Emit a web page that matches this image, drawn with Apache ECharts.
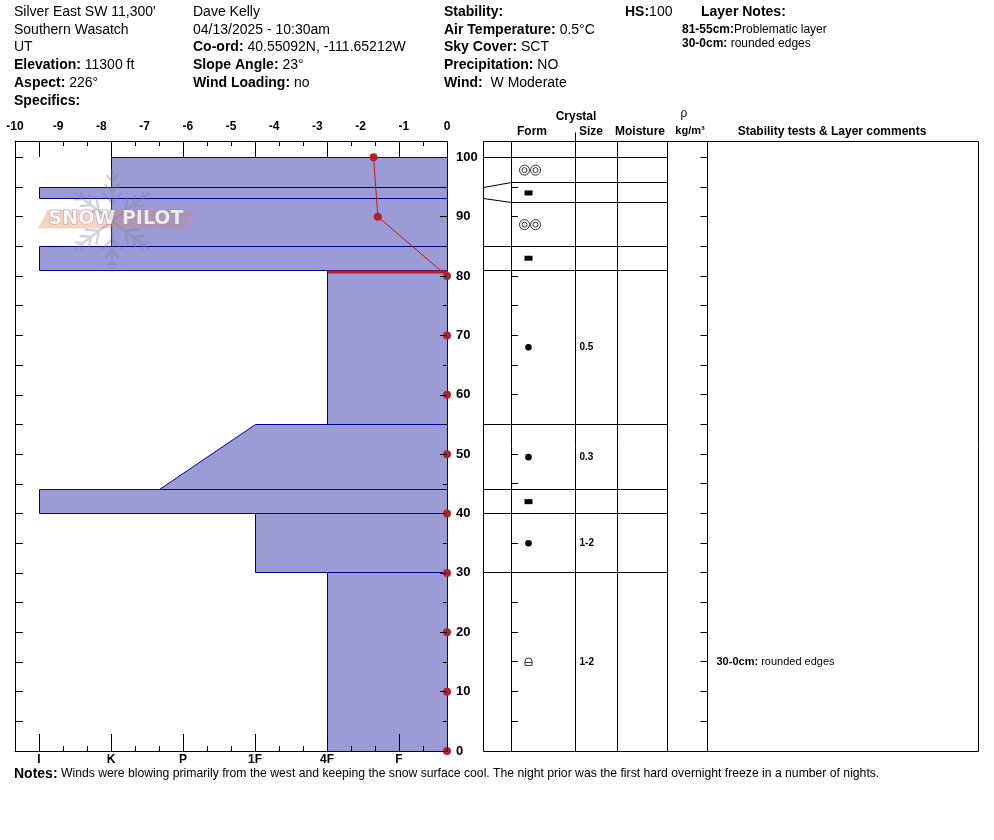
<!DOCTYPE html>
<html><head><meta charset="utf-8">
<script src="https://cdn.jsdelivr.net/npm/echarts@6/dist/echarts.min.js"></script>
<style>html,body{margin:0;padding:0;background:#fff}#c{width:994px;height:840px}</style>
</head><body><div id="c"></div>
<script>
// ---------- DATA ----------
const layerTop      = [100, 95, 93, 85, 81, 55, 44, 40, 30];
const layerBottom   = [95, 93, 85, 81, 55, 44, 40, 30, 0];
const hardnessTop   = ['K', 'I', 'K', 'I', '4F', '1F', 'I', '1F', '4F'];
const hardnessBottom= ['K', 'I', 'K', 'I', '4F', 'P+', 'I', '1F', '4F'];
const grainForm     = ['MFcr', 'IF', 'MFcr', 'IF', 'RG', 'RG', 'IF', 'RG', 'FCxr'];
const grainSize     = ['', '', '', '', '0.5', '0.3', '', '1-2', '1-2'];
const problematic   = [false, false, false, false, true, false, false, false, false];
const layerComment  = ['', '', '', '', '', '', '', '', ' rounded edges'];
const tempDepth     = [100, 90, 80, 70, 60, 50, 40, 30, 20, 10, 0];
const tempValue     = [-1.7, -1.6, 0, 0, 0, 0, 0, 0, 0, 0, 0];
const hardnessLabels= ['I', 'K', 'P', '1F', '4F', 'F'];
const depthLabels   = [0, 10, 20, 30, 40, 50, 60, 70, 80, 90, 100];
const depthTicks    = [0, 5, 10, 15, 20, 25, 30, 35, 40, 45, 50, 55, 60, 65, 70, 75, 80, 85, 90, 95, 100];
const tempLabels    = [-10, -9, -8, -7, -6, -5, -4, -3, -2, -1, 0];

const infoCol1 = [["Silver East SW 11,300'"], ['Southern Wasatch'], ['UT'], ['Elevation:', ' 11300 ft'], ['Aspect:', ' 226°'], ['Specifics:', '']];
const infoCol2 = [['Dave Kelly'], ['04/13/2025 - 10:30am'], ['Co-ord:', ' 40.55092N, -111.65212W'], ['Slope Angle:', ' 23°'], ['Wind Loading:', ' no']];
const infoCol3 = [['Stability:', ''], ['Air Temperature:', ' 0.5°C'], ['Sky Cover:', ' SCT'], ['Precipitation:', ' NO'], ['Wind:', '  W Moderate']];
const notesText = 'Winds were blowing primarily from the west and keeping the snow surface cool. The night prior was the first hard overnight freeze in a number of nights.';

// hand hardness code -> position (thirds of a step from fist)
const H = {'F-':1,'F':2,'F+':3,'4F-':4,'4F':5,'4F+':6,'1F-':7,'1F':8,'1F+':9,'P-':10,'P':11,'P+':12,'K-':13,'K':14,'K+':15,'I-':16,'I':17,'I+':18};

// ---------- LAYOUT ----------
const FONT = '"Liberation Sans", Arial, sans-serif';
const DEPTH_MAX = 102.75;
const MIN_ROW_CM = 3.37;
const COL = {left:0.5, form:28.5, size:92.5, moisture:134.5, density:184.5, comments:224.5, right:495.5};
const BAR_FILL = '#9B9BD6', BAR_EDGE = '#00009C';
const n = layerTop.length;
const HS = layerTop[0];

// display (table) boundaries: thin layers expanded about their centre
const dispTop = layerTop.slice(), dispBottom = layerBottom.slice();
for (let i = 0; i < n; i++) {
  if (layerTop[i] - layerBottom[i] < MIN_ROW_CM) {
    const c = (layerTop[i] + layerBottom[i]) / 2;
    dispTop[i] = c + MIN_ROW_CM / 2; dispBottom[i] = c - MIN_ROW_CM / 2;
    if (i > 0) dispBottom[i - 1] = dispTop[i];
    if (i < n - 1) dispTop[i + 1] = dispBottom[i];
  }
}
const crisp = v => Math.round(v - 0.5) + 0.5;
const hardTickVals = hardnessLabels.map(l => H[l]);
const hardLabelOf = {}; hardnessLabels.forEach(l => hardLabelOf[H[l]] = l);

const black = {color:'#000', width:1};
function hardAxis(pos, extra) {
  return Object.assign({gridIndex:0, type:'value', min:0, max:18, inverse:true, position:pos, z:6,
    axisLine:{show:false, onZero:false, lineStyle:black}, axisLabel:{show:false}, splitLine:{show:false}}, extra);
}
function depthAxis(pos, extra) {
  return Object.assign({gridIndex:0, type:'value', min:0, max:DEPTH_MAX, position:pos, z:6,
    axisLine:{show:false, onZero:false, lineStyle:black}, axisLabel:{show:false}, splitLine:{show:false}}, extra);
}

// ---------- SERIES ----------
const barData = layerTop.map((t, i) => [H[hardnessTop[i]], t, H[hardnessBottom[i]], layerBottom[i], problematic[i] ? 1 : 0]);
const tempData = tempValue.map((t, i) => [t, tempDepth[i]]);

function barPoints(api) {
  return [api.coord([api.value(0), api.value(1)]), api.coord([0, api.value(1)]),
          api.coord([0, api.value(3)]), api.coord([api.value(2), api.value(3)])].map(q => [crisp(q[0]), crisp(q[1])]);
}
function renderBar(params, api) {
  const p = barPoints(api);
  const ch = [{type:'polygon', shape:{points:p}, style:{fill:BAR_FILL, stroke:BAR_EDGE, lineWidth:1}}];
  if (api.value(4)) ch.push({type:'line', shape:{x1:p[0][0], y1:p[0][1] + 1.5, x2:p[1][0], y2:p[1][1] + 1.5}, style:{stroke:'#B3202A', lineWidth:3}});
  return {type:'group', children:ch};
}
// right (ground-surface side) edge of each layer, drawn over the temperature line
function renderBarEdge(params, api) {
  const p = barPoints(api);
  const y1 = api.value(4) ? p[1][1] + 3 : p[1][1] + 0.5;
  const y2 = p[2][1] - 0.5;
  return {type:'group', children:[
    {type:'line', shape:{x1:p[1][0] - 1, y1, x2:p[2][0] - 1, y2}, style:{stroke:BAR_FILL, lineWidth:1}},
    {type:'line', shape:{x1:p[1][0], y1, x2:p[2][0], y2}, style:{stroke:BAR_EDGE, lineWidth:1}}]};
}

function grainSymbol(code, cx, cy) {
  const st = {fill:'none', stroke:'#333', lineWidth:1};
  if (code === 'RG') return [{type:'circle', shape:{cx, cy, r:3.3}, style:{fill:'#000'}}];
  if (code === 'IF') return [{type:'rect', shape:{x:cx - 4, y:cy - 2.5, width:8, height:5}, style:{fill:'#000'}}];
  if (code === 'MFcr') {
    const c = cx + 1.5;
    return [-5.5, 5.5].flatMap(d => [
      {type:'circle', shape:{cx:c + d, cy, r:5}, style:st},
      {type:'circle', shape:{cx:c + d, cy, r:2.5}, style:st}]);
  }
  if (code === 'FCxr') {
    return [
      {type:'polyline', shape:{points:[[cx - 3.5, cy + 3.5], [cx - 3.5, cy - 0.5]]}, style:st},
      {type:'arc', shape:{cx, cy:cy - 0.5, r:3.5, startAngle:Math.PI, endAngle:2 * Math.PI}, style:st},
      {type:'polyline', shape:{points:[[cx + 3.5, cy - 0.5], [cx + 3.5, cy + 3.5], [cx - 3.5, cy + 3.5]]}, style:st},
      {type:'line', shape:{x1:cx - 3.5, y1:cy + 0.5, x2:cx + 3.5, y2:cy + 0.5}, style:st}];
  }
  return [];
}

function renderTableLayer(params, api) {
  const i = params.dataIndex;
  const ch = [];
  const ln = {stroke:'#000', lineWidth:1};
  const xl = api.coord([COL.left, 0])[0], xf = api.coord([COL.form, 0])[0], xs = api.coord([COL.size, 0])[0];
  const xd = api.coord([COL.density, 0])[0], xc = api.coord([COL.comments, 0])[0];
  if (layerBottom[i] > 0) {
    const yb = crisp(api.coord([0, dispBottom[i]])[1]);
    const ya = crisp(api.coord([0, layerBottom[i]])[1]);
    ch.push({type:'line', shape:{x1:xf, y1:yb, x2:xd, y2:yb}, style:ln});
    ch.push({type:'line', shape:{x1:xl, y1:ya, x2:xf, y2:yb}, style:ln});
  }
  const yc = api.coord([0, (dispTop[i] + dispBottom[i]) / 2])[1];
  grainSymbol(grainForm[i], xf + 17, yc).forEach(e => ch.push(e));
  if (grainSize[i]) ch.push({type:'text', x:xs + 4, y:yc, style:{text:grainSize[i], fill:'#000', fontSize:10, fontWeight:'bold', fontFamily:FONT, verticalAlign:'middle', align:'left'}});
  if (layerComment[i]) ch.push({type:'text', x:xc + 9, y:yc, style:{text:`{b|${layerTop[i]}-${layerBottom[i]}cm:}${layerComment[i]}`, fill:'#000', fontSize:11, fontFamily:FONT, verticalAlign:'middle', align:'left', rich:{b:{fontSize:11, fontWeight:'bold', fontFamily:FONT, fill:'#000'}}}});
  return {type:'group', children:ch};
}

function renderTableFrame(params, api) {
  const ch = [];
  const ln = {stroke:'#000', lineWidth:1};
  const yT = crisp(api.coord([0, DEPTH_MAX])[1]), yB = crisp(api.coord([0, 0])[1]);
  const X = {}; Object.keys(COL).forEach(k => X[k] = api.coord([COL[k], 0])[0]);
  ch.push({type:'rect', shape:{x:X.left, y:yT, width:X.right - X.left, height:yB - yT}, style:{fill:'none', stroke:'#000', lineWidth:1}});
  ['form', 'size', 'moisture', 'density', 'comments'].forEach(k => ch.push({type:'line', shape:{x1:X[k], y1:yT, x2:X[k], y2:yB}, style:ln}));
  ch.push({type:'line', shape:{x1:X.size, y1:yT - 9, x2:X.size, y2:yT}, style:ln});
  const ys = crisp(api.coord([0, HS])[1]);
  ch.push({type:'line', shape:{x1:X.left, y1:ys, x2:X.density, y2:ys}, style:ln});
  depthTicks.forEach(d => {
    const y = crisp(api.coord([0, d])[1]);
    ch.push({type:'line', shape:{x1:X.form, y1:y, x2:X.form + 6.5, y2:y}, style:ln});
    ch.push({type:'line', shape:{x1:X.comments - 7, y1:y, x2:X.comments, y2:y}, style:ln});
  });
  return {type:'group', children:ch};
}

// ---------- GRAPHICS (header, notes, logo) ----------
const graphics = [];
function richLine(x, y, parts, size, plainSize) {
  const text = parts.length > 1 ? `{b|${parts[0]}}${parts[1]}` : parts[0];
  graphics.push({type:'text', x, y, z:10, style:{text, fill:'#000', fontSize:plainSize || size, fontFamily:FONT, verticalAlign:'middle', align:'left',
    rich:{b:{fontSize:size, fontWeight:'bold', fontFamily:FONT, fill:'#000'}}}});
}
function plainText(x, y, text, size, weight, align) {
  graphics.push({type:'text', x, y, z:10, style:{text, fill:'#000', fontSize:size, fontWeight:weight || 'normal', fontFamily:FONT, verticalAlign:'middle', align:align || 'left'}});
}
const rowY = i => 12 + 17.8 * i;
infoCol1.forEach((p, i) => richLine(14, rowY(i), p, 14));
infoCol2.forEach((p, i) => richLine(193, rowY(i), p, 14));
infoCol3.forEach((p, i) => richLine(444, rowY(i), p, 14));
richLine(625, rowY(0), ['HS:', String(HS)], 14);
richLine(701, rowY(0), ['Layer Notes:', ''], 14);
const headerNotes = [];
for (let i = 0; i < n; i++) {
  if (problematic[i]) headerNotes.push([`${layerTop[i]}-${layerBottom[i]}cm:`, 'Problematic layer']);
}
for (let i = 0; i < n; i++) {
  if (layerComment[i]) headerNotes.push([`${layerTop[i]}-${layerBottom[i]}cm:`, layerComment[i]]);
}
headerNotes.forEach((p, i) => richLine(682, 30 + 14 * i, p, 12));
richLine(14, 774, ['Notes:', ' ' + notesText], 14, 12.2);

// table header
plainText(576, 117, 'Crystal', 12, 'bold', 'center');
plainText(532, 132, 'Form', 12, 'bold', 'center');
plainText(591, 132, 'Size', 12, 'bold', 'center');
plainText(640, 132, 'Moisture', 12, 'bold', 'center');
plainText(684, 114, 'ρ', 12, 'normal', 'center');
plainText(690, 131, 'kg/m³', 11, 'bold', 'center');
plainText(832, 132, 'Stability tests & Layer comments', 12, 'bold', 'center');

// SnowPilot watermark (decoration)
(function () {
  graphics.push({type:'polygon', z:20, shape:{points:[[38, 228.5], [48, 209.5], [195, 209.5], [185, 228.5]]},
    style:{fill:{type:'linear', x:0, y:0, x2:1, y2:0, colorStops:[{offset:0, color:'rgba(235,150,90,0.42)'}, {offset:1, color:'rgba(200,130,140,0.35)'}]}}});
  const W = 120, Hh = 110, cx = 60, cy = 55;
  const cv = document.createElement('canvas'); cv.width = W; cv.height = Hh;
  const g = cv.getContext('2d');
  g.strokeStyle = 'rgb(118,130,152)'; g.lineWidth = 2.4; g.lineCap = 'round';
  g.beginPath();
  const arms = [[90, 50], [270, 50], [37, 46], [143, 46], [217, 46], [323, 46]];
  arms.forEach(([deg, len]) => {
    const a = deg * Math.PI / 180, dx = Math.cos(a), dy = -Math.sin(a);
    g.moveTo(cx, cy); g.lineTo(cx + dx * len, cy + dy * len);
    [0.36, 0.58, 0.8].forEach((t, k) => {
      const px = cx + dx * len * t, py = cy + dy * len * t, bl = 13 - k * 3;
      [1, -1].forEach(s => { const b = a + s * 0.75; g.moveTo(px, py); g.lineTo(px + Math.cos(b) * bl, py - Math.sin(b) * bl); });
    });
  });
  g.stroke();
  graphics.push({type:'image', z:21, x:112 - cx, y:221 - cy, style:{image:cv.toDataURL(), width:W, height:Hh, opacity:0.34}});
  graphics.push({type:'text', x:116, y:219.5, z:22, style:{text:'SNOW PILOT', fontSize:19, fontWeight:'bold', fontFamily:'"DejaVu Sans", sans-serif',
    fill:'rgba(255,255,255,0.8)', stroke:'rgba(130,138,160,0.6)', lineWidth:1, align:'center', verticalAlign:'middle'}});
})();

// ---------- CHART ----------
const chart = echarts.init(document.getElementById('c'), null, {renderer:'canvas'});
chart.setOption({
  animation:false,
  backgroundColor:'#fff',
  grid:[
    {left:15, top:141, width:432, height:610, outerBoundsMode:'none', containLabel:false},
    {left:483, top:141, width:496, height:610, outerBoundsMode:'none', containLabel:false}
  ],
  xAxis:[
    hardAxis('bottom', {axisLine:{show:true, onZero:false, lineStyle:black},
      axisTick:{show:true, inside:true, length:17, customValues:hardTickVals, lineStyle:black},
      axisLabel:{show:true, customValues:hardTickVals, formatter:v => hardLabelOf[v] || '', margin:3, color:'#000', fontWeight:'bold', fontSize:12, fontFamily:FONT}}),
    hardAxis('bottom', {interval:1, axisTick:{show:true, inside:true, length:5, lineStyle:black}}),
    hardAxis('top', {axisLine:{show:true, onZero:false, lineStyle:black},
      axisTick:{show:true, inside:true, length:16, customValues:[0].concat(hardTickVals), lineStyle:black}}),
    hardAxis('top', {interval:1, axisTick:{show:true, inside:true, length:5, lineStyle:black}}),
    {gridIndex:0, type:'value', min:tempLabels[0], max:tempLabels[tempLabels.length - 1], interval:1, position:'top', z:6,
      axisLine:{show:false, onZero:false}, axisTick:{show:false}, splitLine:{show:false},
      axisLabel:{show:true, customValues:tempLabels, margin:8, color:'#000', fontWeight:'bold', fontSize:12, fontFamily:FONT}},
    {gridIndex:1, type:'value', min:0, max:496, show:false, axisLine:{onZero:false}}
  ],
  yAxis:[
    depthAxis('left', {axisLine:{show:true, onZero:false, lineStyle:black},
      axisTick:{show:true, inside:true, length:8, customValues:depthTicks, lineStyle:black}}),
    depthAxis('right', {axisTick:{show:true, inside:true, length:7, customValues:depthLabels, lineStyle:black},
      axisLabel:{show:true, customValues:depthLabels, margin:9, color:'#000', fontWeight:'bold', fontSize:13, fontFamily:FONT}}),
    depthAxis('right', {axisTick:{show:true, inside:true, length:4, customValues:depthTicks.filter(d => d % 10 !== 0), lineStyle:black}}),
    {gridIndex:1, type:'value', min:0, max:DEPTH_MAX, show:false, axisLine:{onZero:false}}
  ],
  graphic:graphics,
  series:[
    {type:'custom', xAxisIndex:0, yAxisIndex:0, data:barData, renderItem:renderBar, z:2, silent:true},
    {type:'line', xAxisIndex:4, yAxisIndex:0, data:tempData, showSymbol:false, symbol:'none', clip:false, z:3, silent:true,
      lineStyle:{color:'#CC1414', width:1}},
    {type:'custom', xAxisIndex:0, yAxisIndex:0, data:barData, renderItem:renderBarEdge, z:4, silent:true},
    {type:'scatter', xAxisIndex:4, yAxisIndex:0, data:tempData, symbol:'circle', symbolSize:8, clip:false, z:5, silent:true,
      itemStyle:{color:'#B3202A', opacity:1}},
    {type:'custom', xAxisIndex:5, yAxisIndex:3, data:[0], renderItem:renderTableFrame, z:2, silent:true},
    {type:'custom', xAxisIndex:5, yAxisIndex:3, data:layerTop.map((t, i) => i), renderItem:renderTableLayer, z:3, silent:true}
  ]
});
</script>
</body></html>
